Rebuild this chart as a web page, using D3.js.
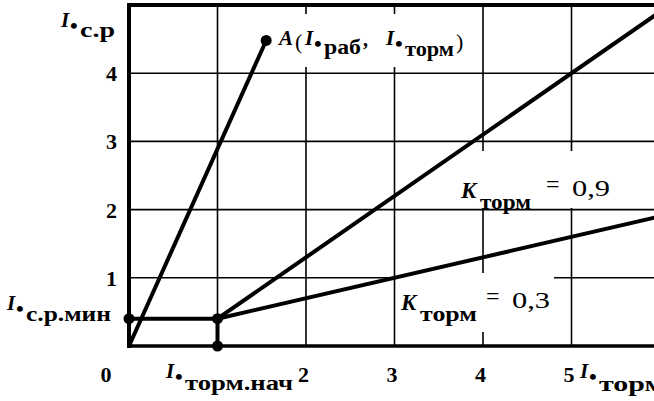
<!DOCTYPE html>
<html>
<head>
<meta charset="utf-8">
<script src="https://cdn.jsdelivr.net/npm/d3@7"></script>
<style>
  html, body { margin: 0; padding: 0; background: #fff; }
  svg { display: block; }
  text { font-family: "Liberation Serif", "Times New Roman", serif; fill: #000; }
</style>
</head>
<body>
<script>
// ---- tick values and grid ----
const xTicks = [2, 3, 4, 5];
const yTicks = [1, 2, 3, 4];
const xGrid = [1, 2, 3, 4, 5, 6];
const yGrid = [1, 2, 3, 4];

// ---- characteristic (relative units) ----
const iMinPickup = 0.4;         // I*с.р.мин
const iBrakeStart = 1;          // I*торм.нач
const pointA = [1.55, 4.48];    // A(I*раб, I*торм)
const brakeCoeffs = [0.9, 0.3]; // K_торм of the two braking slopes
const xEnd = 6;                 // right end of the braking lines

const W = 654, H = 401;
const x = d3.scaleLinear().domain([0, 6]).range([129, 660]);
const y = d3.scaleLinear().domain([0, 5]).range([346, 5]);

const svg = d3.select("body").append("svg")
  .attr("width", W).attr("height", H)
  .attr("viewBox", `0 0 ${W} ${H}`);

// ---- grid ----
const grid = svg.append("g").attr("stroke", "#000").attr("stroke-width", 1.6);
grid.selectAll("line.v").data(xGrid).join("line")
  .attr("class", "v")
  .attr("x1", d => x(d)).attr("x2", d => x(d))
  .attr("y1", y(0)).attr("y2", y(5));
grid.selectAll("line.h").data(yGrid).join("line")
  .attr("class", "h")
  .attr("x1", x(0)).attr("x2", x(6))
  .attr("y1", d => y(d)).attr("y2", d => y(d));

// ---- labels (white knock-out behind text) ----
const labelLayer = svg.append("g");

function addLabel(parts, pad) {
  const g = labelLayer.append("g");
  const t = g.append("text");
  parts.forEach(p => {
    const s = t.append("tspan")
      .attr("x", p.x).attr("y", p.y)
      .attr("font-size", p.size || 20)
      .attr("font-weight", p.weight || "bold")
      .attr("font-style", p.italic ? "italic" : "normal")
      .text(p.t);
    if (p.len) s.attr("textLength", p.len).attr("lengthAdjust", "spacingAndGlyphs");
  });
  if (pad) {
    const b = t.node().getBBox();
    g.insert("rect", "text")
      .attr("x", b.x - pad[3]).attr("y", b.y - pad[0])
      .attr("width", b.width + pad[1] + pad[3])
      .attr("height", b.height + pad[0] + pad[2])
      .attr("fill", "#fff");
  }
  return g;
}

// "I•<sub>" notation
function starParts(x0, base, sub, subLen, subBase) {
  return [
    { t: "I", x: x0, y: base, size: 21, italic: true },
    { t: "•", x: x0 + 9, y: base + 6, size: 22, weight: "bold" },
    { t: sub, x: x0 + 19, y: subBase, size: 21, len: subLen }
  ];
}

// axis titles and marked quantities
addLabel(starParts(61, 27, "с.р", 35, 37), [3, 3, 3, 3]);
addLabel(starParts(7, 310, "с.р.мин", 85, 321), [2, 2, 2, 2]);
addLabel(starParts(166, 378, "торм.нач", 108, 390), [2, 2, 2, 2]);
addLabel(starParts(580, 378, "торм", 66, 391), [2, 2, 2, 2]);

// point A label
addLabel([
  { t: "A", x: 279, y: 45, size: 21, italic: true },
  { t: "(", x: 295, y: 49, size: 22, weight: "normal" },
  ...starParts(305, 45, "раб", 37, 54),
  { t: ",", x: 363, y: 46, size: 20 },
  ...starParts(386, 45, "торм", 49, 56),
  { t: ")", x: 456, y: 49, size: 22, weight: "normal" }
], [12, 4, 6, 4]);

// braking coefficient labels
function kLabel(x0, base, subLen, value, valueX) {
  return [
    { t: "K", x: x0, y: base, size: 23, italic: true },
    { t: "торм", x: x0 + 19, y: base + 11, size: 21, len: subLen },
    { t: "=", x: valueX - 26, y: base - 6, size: 24, weight: "normal" },
    { t: String(value).replace(".", ","), x: valueX, y: base - 2, size: 24, weight: "normal", len: 38 }
  ];
}
addLabel(kLabel(461, 198, 51, brakeCoeffs[0], 572), [20, 4, -6, 4]);
addLabel(kLabel(401, 310, 57, brakeCoeffs[1], 512), [10, 4, 6, 4]);

// ---- tick labels ----
const xAxis = svg.append("g")
  .attr("transform", `translate(0,${y(0)})`)
  .call(d3.axisBottom(x).tickValues(xTicks).tickFormat(d3.format("d")).tickSize(0));
xAxis.select(".domain").remove();
xAxis.selectAll("text")
  .attr("y", 36).attr("dy", 0).attr("dx", -3)
  .attr("font-size", 22).attr("font-weight", "bold");

const yAxis = svg.append("g")
  .attr("transform", `translate(${x(0)},0)`)
  .call(d3.axisLeft(y).tickValues(yTicks).tickFormat(d3.format("d")).tickSize(0).tickPadding(12));
yAxis.select(".domain").remove();
yAxis.selectAll("text")
  .attr("dy", "0.34em")
  .attr("font-size", 22).attr("font-weight", "bold");

svg.append("text")
  .attr("x", x(0) - 23).attr("y", y(0) + 36)
  .attr("text-anchor", "middle")
  .attr("font-size", 22).attr("font-weight", "bold")
  .text("0");

// ---- frame ----
const frame = svg.append("g").attr("stroke", "#000").attr("stroke-linecap", "square");
frame.append("line").attr("x1", x(0)).attr("x2", x(0)).attr("y1", y(0)).attr("y2", y(5)).attr("stroke-width", 4);
frame.append("line").attr("x1", x(0)).attr("x2", x(6)).attr("y1", y(0)).attr("y2", y(0)).attr("stroke-width", 3.5);
frame.append("line").attr("x1", x(0)).attr("x2", x(6)).attr("y1", y(5)).attr("y2", y(5)).attr("stroke-width", 4);

// ---- characteristic lines ----
const line = d3.line().x(d => x(d[0])).y(d => y(d[1]));
const curves = [
  [[0, 0], pointA],                                   // working line through A
  [[0, iMinPickup], [iBrakeStart, iMinPickup]],       // minimum pickup
  [[iBrakeStart, 0], [iBrakeStart, iMinPickup]],      // start of braking
  ...brakeCoeffs.map(k => [
    [iBrakeStart, iMinPickup],
    [xEnd, iMinPickup + k * (xEnd - iBrakeStart)]
  ])
];
svg.append("g").selectAll("path").data(curves).join("path")
  .attr("d", line)
  .attr("fill", "none").attr("stroke", "#000")
  .attr("stroke-width", 4).attr("stroke-linecap", "round");

// ---- marked points ----
const dots = [[0, iMinPickup], [iBrakeStart, iMinPickup], [iBrakeStart, 0], pointA];
svg.append("g").selectAll("circle").data(dots).join("circle")
  .attr("cx", d => x(d[0])).attr("cy", d => y(d[1]))
  .attr("r", 5.5).attr("fill", "#000");
</script>
</body>
</html>
